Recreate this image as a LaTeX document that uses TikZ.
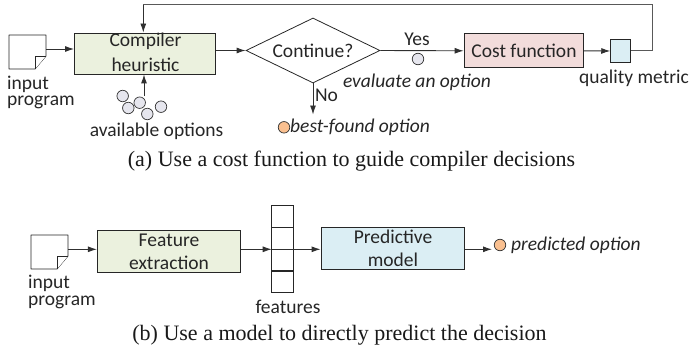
\documentclass[tikz,border=0pt]{standalone}
\usepackage{fontspec}
\setmainfont{Carlito}
\newfontfamily\capfont{Liberation Serif}
\usetikzlibrary{arrows.meta,shapes.geometric,calc}
\definecolor{greenbox}{HTML}{EBF1DE}
\definecolor{pinkbox}{HTML}{F2DCDB}
\definecolor{bluebox}{HTML}{DBEEF4}
\definecolor{optgray}{HTML}{E6E6EE}
\definecolor{optorange}{HTML}{FAC090}
\definecolor{conn}{HTML}{303030}
\tikzset{
  x=1pt,y=-1pt,
  lbl/.style={font=\fontsize{19.5}{21}\selectfont,inner sep=0pt,text=black!85},
  ital/.style={lbl,font=\fontsize{19.5}{21}\selectfont\itshape},
  captxt/.style={font=\capfont\fontsize{22}{24}\selectfont,inner sep=0pt,text=black!90},
  boxa/.style={draw=black!85,line width=0.9pt,inner sep=0pt,align=center},
  optn/.style={circle,draw=black!80,line width=0.7pt,fill=optgray,minimum size=11.5pt,inner sep=0pt},
  best/.style={optn,fill=optorange},
  arr/.style={draw=conn,line width=0.9pt,-{Latex[length=9pt,width=6pt]}},
  lin/.style={draw=conn!80,line width=1pt},
  docshape/.style={draw=black!85,line width=0.8pt,fill=white,line join=round},
  cell/.style={draw=black!85,line width=0.8pt,fill=white,minimum width=22pt,minimum height=21.5pt,inner sep=0pt},
}
\newcommand{\docicon}[2]{%
  \path[docshape] (#1,#2) -- ++(37,0) -- ++(0,21) -- ++(-11,13) -- ++(-26,0) -- cycle;
  \path[docshape] (#1+37,#2+21) -- ++(-11,0) -- ++(0,13);
}
\begin{document}
\begin{tikzpicture}
\useasboundingbox (0,0) rectangle (691,353);
% ---- (a)
\docicon{9}{35}
\coordinate (docA) at (46,49);
\node[boxa,fill=greenbox,minimum width=141pt,minimum height=41pt] (heur) at (145,53.5) {};
\node[lbl] (heur1) at (145.5,41) {Compiler};
\node[lbl] (heur2) at (145.5,65) {heuristic};
\node[diamond,draw=black!85,line width=0.8pt,inner sep=0pt,minimum width=134pt,minimum height=65pt,aspect=2.06] (cont) at (313,50.5) {};
\node[lbl] (conttxt) at (313,51) {Continue?};
\node[boxa,fill=pinkbox,minimum width=119.5pt,minimum height=34.3pt] (cost) at (523.8,50.8) {};
\node[lbl] (costtxt) at (524,51) {Cost function};
\node[boxa,fill=bluebox,minimum width=20pt,minimum height=23.4pt] (qual) at (620.7,51) {};
\coordinate (fb1) at (652.3,51);
\coordinate (fb2) at (652.3,5);
\coordinate (fb3) at (143.3,5);
\draw[lin] (qual.east) -- (fb1) -- (fb2) -- (fb3);
\draw[arr] (fb3) -- (fb3 |- heur.north);
\draw[arr] (docA) -- (docA -| heur.west);
\draw[arr] (heur.east |- cont.west) -- (cont.west);
\draw[arr] (cont.east) -- (cost.west);
\draw[arr] (cost.east) -- (qual.west);
\node[optn] (o1) at (122.7,96) {};
\node[optn] (o2) at (139.7,102.7) {};
\node[optn] (o3) at (128.3,108) {};
\node[optn] (o4) at (147.3,114) {};
\node[optn] (o5) at (161,106.7) {};
\coordinate (upA) at (144,96);
\draw[arr] (upA) -- (upA |- heur.south);
\node[best] (bestc) at (284,127.3) {};
\coordinate (nearbest) at (313,114.5);
\draw[arr] (cont.south) -- (nearbest);
\node[optn] (evalc) at (418,59) {};
\node[lbl,anchor=base west] at (7,89) {input};
\node[lbl,anchor=base west] at (7,106) {program};
\node[lbl] at (156.5,131) {available options};
\node[lbl] at (326.5,95.5) {No};
\node[lbl] at (417,39.5) {Yes};
\node[ital,anchor=east] at (491,82) {evaluate an option};
\node[ital,anchor=west] at (290,127) {best-found option};
\node[lbl] at (634,78) {quality metric};
\node[captxt] at (351.5,161) {(a) Use a cost function to guide compiler decisions};
% ---- (b)
\docicon{31}{235}
\coordinate (docB) at (68,249.3);
\node[boxa,fill=greenbox,minimum width=143.4pt,minimum height=42pt] (feat) at (169,251.7) {};
\node[lbl] at (169,240) {Feature};
\node[lbl] at (169,263) {extraction};
\node[cell] (c1) at (282.7,216.5) {};
\node[cell] (c2) at (282.7,238.3) {};
\node[cell] (c3) at (282.7,260) {};
\node[cell] (c4) at (282.7,281.8) {};
\node[boxa,fill=bluebox,minimum width=143.4pt,minimum height=42pt] (pred) at (392.7,248.3) {};
\node[lbl] at (393,237) {Predictive};
\node[lbl] at (393,260) {model};
\node[best] (predc) at (500,245) {};
\coordinate (featin) at (271.7,249.3);
\coordinate (predout) at (492,249.3);
\draw[arr] (docB) -- (docB -| feat.west);
\draw[arr] (feat.east |- docB) -- (featin);
\draw[arr] (featin) -- (docB -| pred.west);
\draw[arr] (pred.east |- docB) -- (predout);
\node[lbl] at (288,307) {features};
\node[lbl,anchor=base west] at (28,288) {input};
\node[lbl,anchor=base west] at (28,305) {program};
\node[ital,anchor=west] at (511,245) {predicted option};
\node[captxt] at (339.5,335) {(b) Use a model to directly predict the decision};
\end{tikzpicture}
\end{document}
